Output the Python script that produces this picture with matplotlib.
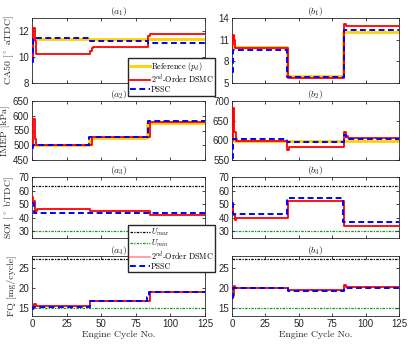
import matplotlib
matplotlib.use('Agg')
import matplotlib.pyplot as plt
from matplotlib.lines import Line2D

# ---- data (engine cycle, value), drawn as steps ----
# CA50
a1_ref_x = [0, 125];                              a1_ref_y = [11.4, 11.4]
a1_dsmc_x = [0, 0.7, 2, 3, 42, 43, 44, 84, 85.5, 125]
a1_dsmc_y = [9.9, 12.2, 11.2, 10.2, 10.5, 10.7, 10.75, 11.6, 11.75, 11.75]
a1_pssc_x = [0, 0.6, 42, 84, 125];                a1_pssc_y = [9.6, 11.45, 11.2, 11.1, 11.1]

b1_ref_x = [0, 41, 83, 125];                      b1_ref_y = [10.0, 6.0, 12.0, 12.0]
b1_dsmc_x = [0, 0.5, 1.5, 2.5, 42, 84, 85, 125]
b1_dsmc_y = [10.2, 11.7, 11.0, 9.85, 5.7, 13.2, 12.95, 12.95]
b1_pssc_x = [0, 0.8, 41.5, 83.5, 125];            b1_pssc_y = [6.5, 9.6, 5.9, 12.35, 12.35]

# IMEP
a2_ref_x = [0, 41, 83, 125];                      a2_ref_y = [500, 525, 574, 574]
a2_dsmc_x = [0, 0.8, 2, 3, 43, 85, 125]
a2_dsmc_y = [500, 590, 520, 500, 527, 578, 578]
a2_pssc_x = [0, 1, 41.5, 83.5, 84, 125];          a2_pssc_y = [490, 500, 527, 560, 582, 582]

b2_ref_x = [0, 125];                              b2_ref_y = [599, 599]
b2_dsmc_x = [0, 0.6, 1.8, 2.8, 41, 42.5, 84, 85.5, 86.5, 125]
b2_dsmc_y = [600, 682, 622, 598, 575, 583, 620, 610, 605, 605]
b2_pssc_x = [0, 0.8, 41.5, 84, 85, 125];          b2_pssc_y = [555, 603, 595, 613, 603, 603]

# SOI
soi_max = 63
soi_min = 30
a3_dsmc_x = [0, 1, 2.5, 3.5, 42, 85, 125];        a3_dsmc_y = [55, 52, 45, 46.5, 45, 42.3, 42.3]
a3_pssc_x = [0, 1.5, 84, 125];                    a3_pssc_y = [50.5, 43.8, 43.2, 43.2]

b3_dsmc_x = [0, 1, 2, 3, 42, 84, 125];            b3_dsmc_y = [48, 42, 38, 40, 52, 34, 34]
b3_pssc_x = [0, 1, 41, 83, 125];                  b3_pssc_y = [51, 42.5, 54.3, 36.6, 36.6]

# FQ
fq_max = 27.2
fq_min = 15
a4_dsmc_x = [0, 1.5, 3, 42, 85, 125];             a4_dsmc_y = [15.0, 15.9, 15.5, 16.7, 19.1, 19.1]
a4_pssc_x = [0, 1, 42, 83, 84.5, 125];            a4_pssc_y = [14.8, 15.3, 16.7, 17.8, 19.1, 19.1]

b4_dsmc_x = [0, 1.2, 2.5, 42, 84, 85.5, 125];     b4_dsmc_y = [18.0, 20.4, 20.1, 19.45, 20.7, 20.3, 20.3]
b4_pssc_x = [0, 1, 42, 84, 125];                  b4_pssc_y = [17.5, 19.95, 19.3, 20.1, 20.1]

x_ticks = [0, 25, 50, 75, 100, 125]

YEL = '#ffd000'
RED = '#ff0000'
BLUE = '#0000ff'
GREEN = '#0c9a0c'
GREY = '#262626'
SERIF = ['cmr10', 'DejaVu Serif']

plt.rcParams['mathtext.fontset'] = 'cm'
plt.rcParams['font.family'] = ['Liberation Sans', 'DejaVu Sans']
plt.rcParams['axes.unicode_minus'] = False

fig = plt.figure(figsize=(4.18, 3.56), dpi=100)

W, H = 418, 356
def pos(x0, x1, y0, y1):
    return [x0 / W, 1 - y1 / H, (x1 - x0) / W, (y1 - y0) / H]

rows = [(18, 83), (101, 160), (177, 238), (256, 316)]
left = (32, 205)
right = (232, 399)


def make_ax(col, row, ylim, yticks, title, ylabel=None):
    ax = fig.add_axes(pos(col[0], col[1], rows[row][0], rows[row][1]))
    ax.set_xlim(0, 125)
    ax.set_ylim(*ylim)
    ax.set_xticks(x_ticks)
    ax.set_yticks(yticks)
    ax.tick_params(direction='in', top=True, right=True, length=2.5, width=0.6,
                   labelsize=7, colors=GREY, pad=2)
    for s in ax.spines.values():
        s.set_color(GREY)
        s.set_linewidth(0.6)
    if row < 3:
        ax.set_xticklabels([])
    else:
        ax.set_xlabel('Engine Cycle No.', fontsize=7, family=SERIF, color=GREY, labelpad=1)
    ax.set_title(title, fontsize=7, pad=2, color=GREY)
    if ylabel:
        ax.set_ylabel(ylabel, fontsize=7, family=SERIF, color=GREY, labelpad=2)
    return ax


def ref(ax, x, y):
    ax.plot(x, y, drawstyle='steps-post', color=YEL, lw=2.0, zorder=2)

def dsmc(ax, x, y):
    ax.plot(x, y, drawstyle='steps-post', color=RED, lw=1.3, zorder=3)

def pssc(ax, x, y):
    ax.plot(x, y, drawstyle='steps-post', color=BLUE, lw=1.4, dashes=(3, 1.8), zorder=4)

def limits(ax, umax, umin):
    ax.axhline(umax, color='k', lw=0.9, ls=(0, (2, 1, 1, 1)), zorder=1)
    ax.axhline(umin, color=GREEN, lw=0.9, ls=(0, (2, 1, 1, 1)), zorder=1)


ax = make_ax(left, 0, (8, 13), [8, 10, 12], r'$(a_1)$', r'CA50 [$^\circ$ aTDC]')
ref(ax, a1_ref_x, a1_ref_y); dsmc(ax, a1_dsmc_x, a1_dsmc_y); pssc(ax, a1_pssc_x, a1_pssc_y)
ax = make_ax(right, 0, (5, 14), [5, 8, 11, 14], r'$(b_1)$')
ref(ax, b1_ref_x, b1_ref_y); dsmc(ax, b1_dsmc_x, b1_dsmc_y); pssc(ax, b1_pssc_x, b1_pssc_y)

ax = make_ax(left, 1, (450, 650), [450, 500, 550, 600, 650], r'$(a_2)$', 'IMEP [kPa]')
ref(ax, a2_ref_x, a2_ref_y); dsmc(ax, a2_dsmc_x, a2_dsmc_y); pssc(ax, a2_pssc_x, a2_pssc_y)
ax = make_ax(right, 1, (550, 700), [550, 600, 650, 700], r'$(b_2)$')
ref(ax, b2_ref_x, b2_ref_y); dsmc(ax, b2_dsmc_x, b2_dsmc_y); pssc(ax, b2_pssc_x, b2_pssc_y)

ax = make_ax(left, 2, (25, 70), [30, 40, 50, 60, 70], r'$(a_3)$', r'SOI [$^\circ$ bTDC]')
limits(ax, soi_max, soi_min); dsmc(ax, a3_dsmc_x, a3_dsmc_y); pssc(ax, a3_pssc_x, a3_pssc_y)
ax = make_ax(right, 2, (25, 70), [30, 40, 50, 60, 70], r'$(b_3)$')
limits(ax, soi_max, soi_min); dsmc(ax, b3_dsmc_x, b3_dsmc_y); pssc(ax, b3_pssc_x, b3_pssc_y)

ax = make_ax(left, 3, (13, 28), [15, 20, 25], r'$(a_4)$', 'FQ [mg/cycle]')
limits(ax, fq_max, fq_min); dsmc(ax, a4_dsmc_x, a4_dsmc_y); pssc(ax, a4_pssc_x, a4_pssc_y)
ax = make_ax(right, 3, (13, 28), [15, 20, 25], r'$(b_4)$')
limits(ax, fq_max, fq_min); dsmc(ax, b4_dsmc_x, b4_dsmc_y); pssc(ax, b4_pssc_x, b4_pssc_y)

# legends
leg_kw = dict(loc='upper left', frameon=True, fancybox=False,
              edgecolor=GREY, framealpha=1, borderpad=0.2, handlelength=2.5,
              handletextpad=0.15, labelspacing=0.0, borderaxespad=0,
              prop={'family': SERIF, 'size': 5.8})
h1 = [Line2D([], [], color=YEL, lw=2.0),
      Line2D([], [], color=RED, lw=1.3),
      Line2D([], [], color=BLUE, lw=1.4, dashes=(3, 1.8))]
l1 = [r'Reference ($p_d$)', r'2$^{nd}$-Order DSMC', 'PSSC']
lg = fig.legend(h1, l1, bbox_to_anchor=(128 / W, 1 - 58 / H), **leg_kw)
lg.set_zorder(10)

h2 = [Line2D([], [], color='k', lw=0.9, ls=(0, (2, 1, 1, 1))),
      Line2D([], [], color=GREEN, lw=0.9, ls=(0, (2, 1, 1, 1))),
      Line2D([], [], color=RED, lw=1.3, alpha=0.4),
      Line2D([], [], color=BLUE, lw=1.4, dashes=(3, 1.8))]
l2 = [r'$U_{max}$', r'$U_{min}$', r'2$^{nd}$-Order DSMC', 'PSSC']
lg2 = fig.legend(h2, l2, bbox_to_anchor=(128 / W, 1 - 225 / H), **leg_kw)
lg2.set_zorder(10)

fig.savefig('out.png', dpi=100)
